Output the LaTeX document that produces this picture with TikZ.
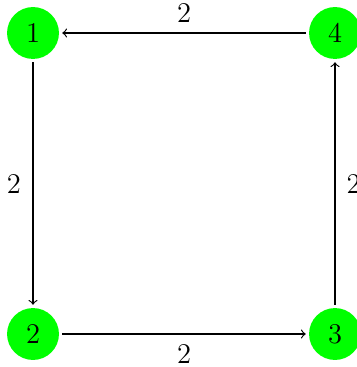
\documentclass[tikz,border=0pt]{standalone}
\begin{document}
\begin{tikzpicture}[x=0.42pt,y=-0.42pt,
  vert/.style={circle,fill=green,inner sep=0pt,minimum size=21.8pt,font=\large},
  edge/.style={->,line width=0.5pt,shorten >=1.2pt,shorten <=1.2pt},
  lbl/.style={inner sep=0pt,font=\large}]
\useasboundingbox (0,0) rectangle (356,367);
\node[vert] (n1) at (33,33) {1};
\node[vert] (n4) at (335,33) {4};
\node[vert] (n2) at (33,334) {2};
\node[vert] (n3) at (335,334) {3};
\draw[edge] (n4) -- node[lbl,above=4.3pt]{2} (n1);
\draw[edge] (n1) -- node[lbl,left=4.8pt]{2} (n2);
\draw[edge] (n2) -- node[lbl,below=4.3pt]{2} (n3);
\draw[edge] (n3) -- node[lbl,right=4.6pt]{2} (n4);
\end{tikzpicture}
\end{document}
